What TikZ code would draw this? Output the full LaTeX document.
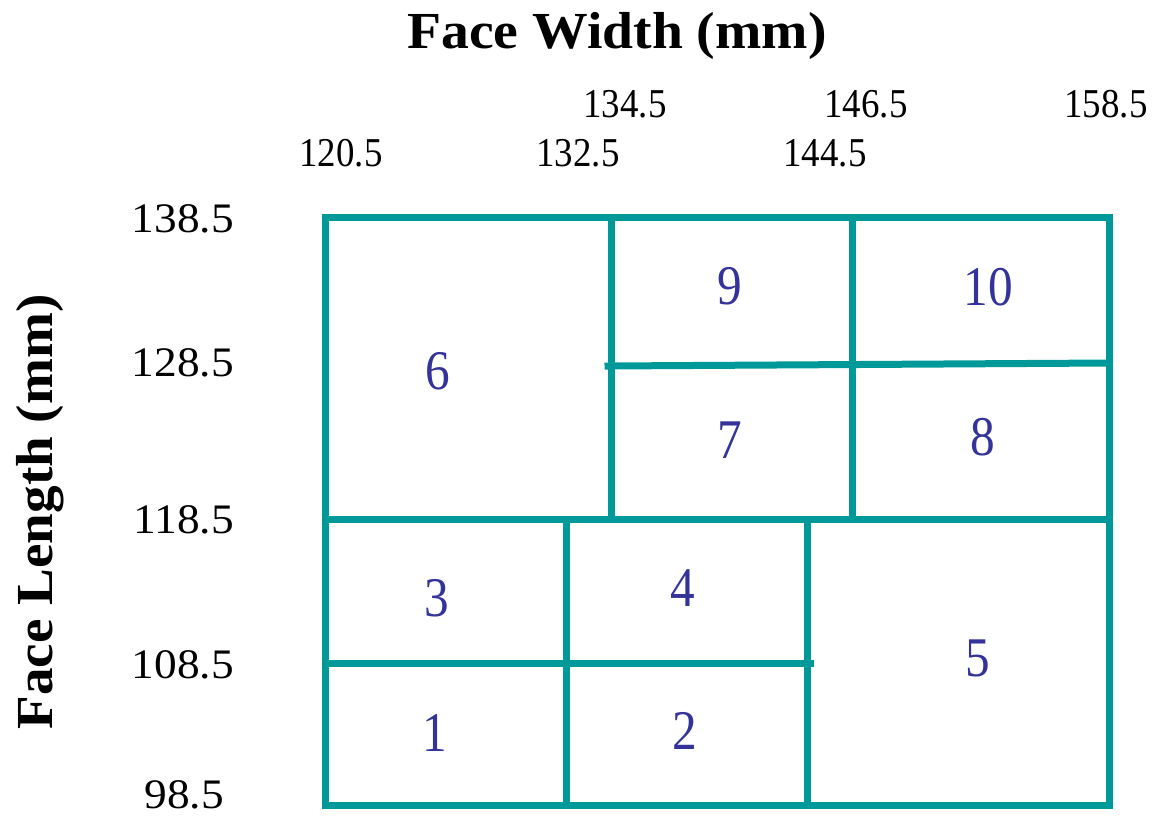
\documentclass[tikz,border=0pt]{standalone}
\usepackage{fontspec}
\usepackage{graphicx}
\setmainfont{Liberation Serif}
\definecolor{gridteal}{HTML}{009999}
\definecolor{numblue}{HTML}{333399}
\begin{document}
\begin{tikzpicture}[x=1pt,y=-1pt,
  gridline/.style={draw=gridteal,line width=7pt,line cap=rect,line join=miter},
  cellnum/.style={anchor=base,inner sep=0pt,text=numblue,font=\fontsize{56}{56}\selectfont},
  toptick/.style={anchor=base,inner sep=0pt,font=\fontsize{41}{41}\selectfont},
  lefttick/.style={anchor=base east,inner sep=0pt,font=\fontsize{42}{42}\selectfont},
  axistitle/.style={anchor=base,inner sep=0pt,font=\bfseries\fontsize{52}{52}\selectfont}]
\useasboundingbox (0,0) rectangle (1156,815);
% grid
\draw[gridline] (325,217) rectangle (1109,805);
\draw[gridline] (325,519) -- (1109,519);
\draw[gridline] (611,217) -- (611,519);
\draw[gridline] (852,217) -- (852,519);
\draw[gridline] (608,366) -- (1109,363);
\draw[gridline] (566,519) -- (566,805);
\draw[gridline] (807,519) -- (807,805);
\draw[gridline] (325,663) -- (810,663);
% cell numbers
\node[cellnum] (c6) at (438,389) {\scalebox{0.88}[1]{6}};
\node[cellnum] (c9) at (730,304) {\scalebox{0.88}[1]{9}};
\node[cellnum] (c10) at (988,305) {\scalebox{0.88}[1]{10}};
\node[cellnum] (c7) at (730,458) {\scalebox{0.88}[1]{7}};
\node[cellnum] (c8) at (983,455) {\scalebox{0.88}[1]{8}};
\node[cellnum] (c3) at (437,616) {\scalebox{0.88}[1]{3}};
\node[cellnum] (c4) at (683,606) {\scalebox{0.88}[1]{4}};
\node[cellnum] (c5) at (978,676) {\scalebox{0.88}[1]{5}};
\node[cellnum] (c1) at (435,751) {\scalebox{0.88}[1]{1}};
\node[cellnum] (c2) at (685,749) {\scalebox{0.88}[1]{2}};
% top ticks
\node[toptick] (t1345) at (625,117) {\scalebox{0.9}[1]{134.5}};
\node[toptick] (t1465) at (866,117) {\scalebox{0.9}[1]{146.5}};
\node[toptick] (t1585) at (1106,117) {\scalebox{0.9}[1]{158.5}};
\node[toptick] (t1205) at (341,166) {\scalebox{0.9}[1]{120.5}};
\node[toptick] (t1325) at (578,166) {\scalebox{0.9}[1]{132.5}};
\node[toptick] (t1445) at (825,166) {\scalebox{0.9}[1]{144.5}};
% left ticks
\node[lefttick] (l1385) at (234,232) {\scalebox{1.08}[1]{138.5}};
\node[lefttick] (l1285) at (234,376) {\scalebox{1.08}[1]{128.5}};
\node[lefttick] (l1185) at (234,533) {\scalebox{1.08}[1]{118.5}};
\node[lefttick] (l1085) at (234,678) {\scalebox{1.08}[1]{108.5}};
\node[lefttick] (l985) at (224,808) {\scalebox{1.08}[1]{98.5}};
% axis titles
\node[axistitle] (xtitle) at (617,48) {\scalebox{1.07}[1]{Face Width (mm)}};
\node[axistitle,rotate=90] (ytitle) at (52,512) {\scalebox{1.06}[1]{Face Length (mm)}};
\end{tikzpicture}
\end{document}
